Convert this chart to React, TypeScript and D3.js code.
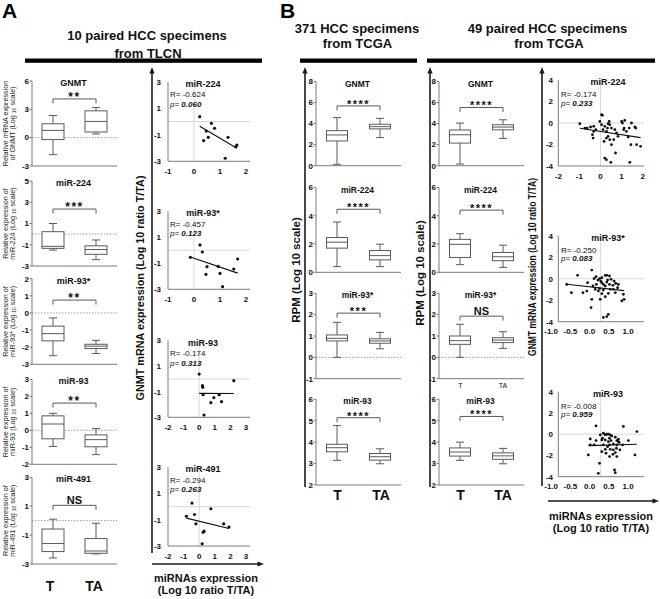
import React from "react";
import * as d3 from "d3";

const FONT = "'Liberation Sans', Arial, Helvetica, sans-serif";
const GROUPS = ["T", "TA"];

// ---------- Panel A: box plots, 10 paired HCC specimens from TLCN ----------
const aNames = ["GNMT", "miR-224", "miR-93*", "miR-93", "miR-491"];
const aLabelTop = ["Relative mRNA expression", "Relative expression of", "Relative expression of", "Relative expression of", "Relative expression of"];
const aLabelBottom = ["of GNMT", "miR-224", "miR-93*", "miR-93", "miR-491"];
const aTicks = [[-3, 0, 3, 6], [-3, -1, 1, 3, 5], [-3, -2, -1, 0, 1, 2], [-2, -1, 0, 1, 2, 3], [-3, -1, 1, 3]];
// [min, q1, median, q3, max]
const aStatsT = [
  [-1.8, -0.2, 0.77, 1.47, 2.35],
  [-1.5, -1.34, -1.15, 0.23, 1.0],
  [-2.5, -1.63, -1.21, -0.77, -0.29],
  [-0.95, -0.5, 0.37, 0.85, 1.0],
  [-2.58, -2.14, -1.58, -0.58, 0.1],
];
const aStatsTA = [
  [0.39, 0.6, 1.72, 2.84, 3.19],
  [-2.4, -1.9, -1.45, -1.1, -0.55],
  [-2.37, -2.08, -1.94, -1.83, -1.6],
  [-1.43, -0.97, -0.55, -0.27, 0.1],
  [-2.3, -2.26, -2.1, -1.24, -0.18],
];
const aSig = ["**", "***", "**", "**", "NS"];
const aBracket = [4.1, 2.36, 0.75, 1.6, 1.06];

// ---------- Panel A: scatter plots ----------
const aScNames = ["miR-224", "miR-93*", "miR-93", "miR-491"];
const aScR = ["-0.624", "-0.457", "-0.174", "-0.294"];
const aScP = ["0.060", "0.123", "0.313", "0.263"];
const aScXTicks = [[-1, 0, 1, 2], [-1, 0, 1, 2], [-2, -1, 0, 1, 2, 3], [-2, -1, 0, 1, 2, 3]];
const aScYTicks = [-3, -1, 1, 3];
const aScX = [
  [0.22, 0.67, 0.79, 0.47, 0.55, 0.37, 1.31, 1.65, 1.61, 1.2],
  [0.23, 0.32, -0.14, 0.5, 0.46, 0.93, 1.0, 1.1, 1.53, 1.68],
  [0, 0.21, 0.23, 0.25, 2.22, 1.28, 0.94, 0.75, 1.43, 0.31],
  [-0.46, 0.75, -0.82, -0.3, -0.21, 0.31, 0.25, 0.19, 1.57, 1.91],
];
const aScY = [
  [0.36, -0.14, -0.51, -0.72, -1.19, -1.44, -1.19, -1.77, -1.9, -2.77],
  [0.41, -0.13, -0.54, -1.26, -1.85, -1.24, -1.78, -2.8, -1.44, -0.67],
  [0.38, -0.53, -0.66, -1.23, -0.14, -1.23, -1.47, -1.86, -1.78, -2.82],
  [0.27, -0.16, -0.73, -0.6, -1.31, -1.87, -1.95, -2.83, -1.31, -1.56],
];

// ---------- Panel B: box plots (TCGA) ----------
const bNames = ["GNMT", "miR-224", "miR-93*", "miR-93"];
const bTicks = [[0, 2, 4, 6, 8], [0, 2, 4, 6], [-1, 0, 1, 2, 3], [2, 3, 4, 5, 6]];
const b1StatsT = [
  [0.13, 2.35, 2.92, 3.33, 4.57],
  [0.4, 1.71, 2.13, 2.46, 3.56],
  [0.0, 0.77, 0.89, 1.05, 1.64],
  [3.15, 3.55, 3.74, 3.9, 4.77],
];
const b1StatsTA = [
  [2.67, 3.5, 3.71, 3.94, 4.5],
  [0.4, 0.88, 1.18, 1.54, 1.99],
  [0.4, 0.66, 0.77, 0.87, 1.17],
  [2.99, 3.16, 3.32, 3.47, 3.69],
];
const b1Sig = ["****", "****", "***", "****"];
const b1Bracket = [5.68, 4.46, 2.07, 5.14];
const b2StatsT = [
  [0.16, 2.15, 2.94, 3.39, 4.05],
  [0.54, 1.05, 1.98, 2.33, 2.73],
  [0.0, 0.61, 0.78, 1.0, 1.55],
  [3.15, 3.35, 3.54, 3.73, 4.0],
];
const b2StatsTA = [
  [2.59, 3.41, 3.67, 3.89, 4.36],
  [0.35, 0.82, 1.1, 1.4, 1.92],
  [0.42, 0.69, 0.81, 0.92, 1.2],
  [2.99, 3.2, 3.36, 3.5, 3.71],
];
const b2Sig = ["****", "****", "NS", "****"];
const b2Bracket = [5.53, 4.4, 1.93, 5.2];

// ---------- Panel B: scatter plots (49 paired) ----------
const bScNames = ["miR-224", "miR-93*", "miR-93"];
const bScR = ["-0.174", "-0.250", "-0.008"];
const bScP = ["0.233", "0.083", "0.959"];
const bScYTicks = [-4, -2, 0, 2, 4];
const bScXTicks = [[-2, -1, 0, 1, 2], [-1, -0.5, 0, 0.5, 1], [-1, -0.5, 0, 0.5, 1]];
const bScXTickLabels = [["-2", "-1", "0", "1", "2"], ["-1.0", "-0.5", "0.0", "0.5", "1.0"], ["-1.0", "-0.5", "0.0", "0.5", "1.0"]];
const bScX = [
  [-0.98, -0.74, -0.63, -0.47, -0.32, -0.22, -0.32, -0.38, -0.35, 0.05, 0.09, -0.03, 0.05, 0.2, 0.12, 0.33, 0.28, 0.41, 0.36, 0.44, 0.52, 0.36, 0.17, 0.28, 0.44, 0.68, 0.76, 0.83, 0.63, 0.52, 0.71, 0.28, 0.2, 0.49, 1.0, 1.04, 1.15, 1.1, 1.23, 1.12, 1.36, 1.31, 1.47, 1.63, 1.67, 1.44, 1.71, 1.9, 1.39],
  [-0.6, -0.88, -0.76, -0.46, -0.34, -0.23, -0.17, -0.12, -0.07, -0.03, 0.0, -0.11, 0.03, 0.07, 0.12, 0.16, 0.12, 0.18, 0.23, 0.27, 0.32, 0.35, 0.39, 0.44, 0.46, 0.25, 0.07, 0.03, -0.06, -0.23, -0.01, 0.12, 0.2, 0.38, 0.59, 0.55, 0.61, -0.25, 0.07, 0.16, 0.2, -0.14, -0.2, 0.16, -0.03, 0.03, 0.23, 0.33, -0.36],
  [-0.12, 0.59, 0.94, -0.27, -0.12, -0.17, -0.32, -0.01, 0.07, 0.12, 0.16, 0.2, 0.25, 0.29, 0.05, 0.12, 0.23, 0.38, 0.42, 0.46, 0.46, 0.23, 0.33, 0.42, 0.03, 0.14, 0.25, 0.33, 0.41, 0.32, 0.42, 0.23, 0.72, 0.89, -0.03, -0.06, 0.36, 0.38, 0.57, 0.03, -0.27, 0.18, 0.5, 0.27, 0.07, 0.2, 0.48, 0.12, 0.38],
];
const bScY = [
  [-0.07, -0.47, -0.47, -0.37, -0.31, -0.62, -0.78, -1.09, -1.4, 0.77, 0.71, 0.15, -0.16, -0.31, -0.62, -0.47, -0.78, 0.15, -0.07, -0.16, -0.47, -1.24, -1.71, -1.4, -1.55, -0.62, -0.93, -1.24, -1.55, -2.02, -2.79, -3.41, -3.26, -3.66, 0.15, 0.0, 0.24, -0.62, -0.78, -0.47, -0.47, -1.3, 0.0, -0.37, -0.47, -2.02, -2.02, -2.17, -3.66],
  [0.31, -0.53, -1.3, -1.3, -0.37, 0.8, 0.0, 0.19, -0.13, 0.0, -0.22, -0.53, -0.37, -0.53, -0.68, -0.31, 0.31, -0.13, -0.53, -0.06, -0.62, -0.22, -0.44, -0.84, -0.53, -0.99, -1.05, -1.39, -1.15, -1.92, -1.92, -1.67, -1.36, -1.3, -1.45, -2.07, -1.92, -2.69, -3.61, -3.52, -3.31, -0.99, -0.68, 0.31, -0.93, 0.09, 0.25, -0.99, -1.15],
  [0.78, 0.73, 0.25, -0.44, -0.6, -1.01, -1.95, -0.07, 0.09, -0.07, 0.0, 0.0, -0.07, -0.16, -0.38, -0.54, -0.38, -0.28, -0.6, -0.47, -0.69, -1.01, -0.92, -1.01, -1.64, -1.79, -1.42, -1.47, -1.32, -1.89, -2.11, -2.11, -0.6, -1.95, -2.74, -3.68, -3.37, -3.62, -1.01, -0.54, -1.01, -1.17, -1.47, -0.6, -1.01, -0.69, -0.78, -1.42, -1.73],
];

// ---------- helpers ----------
const AX = "#7a7a7a";
const BOX = "#5a5a5a";

function fit(xs: number[], ys: number[]) {
  const mx = d3.mean(xs) as number;
  const my = d3.mean(ys) as number;
  let sxy = 0, sxx = 0;
  xs.forEach((x, i) => { sxy += (x - mx) * (ys[i] - my); sxx += (x - mx) * (x - mx); });
  const b = sxy / sxx;
  return { a: my - b * mx, b, x0: d3.min(xs) as number, x1: d3.max(xs) as number };
}

function Rot({ x, y, children, ...rest }: any) {
  return (
    <text transform={`translate(${x},${y}) rotate(-90)`} textAnchor="middle" {...rest}>
      {children}
    </text>
  );
}

function VArrow({ x, y1, y2 }: any) {
  return (
    <g>
      <line x1={x} x2={x} y1={y1} y2={y2 + 5} stroke="#1a1a1a" strokeWidth={1.6} />
      <path d={`M${x},${y2} L${x - 2.6},${y2 + 6.5} L${x + 2.6},${y2 + 6.5} Z`} fill="#1a1a1a" />
    </g>
  );
}

function HArrow({ y, x1, x2 }: any) {
  return (
    <g>
      <line x1={x1} x2={x2 - 5} y1={y} y2={y} stroke="#1a1a1a" strokeWidth={1.6} />
      <path d={`M${x2},${y} L${x2 - 6.5},${y - 2.6} L${x2 - 6.5},${y + 2.6} Z`} fill="#1a1a1a" />
    </g>
  );
}

function Box({ x, y, s, bw }: any) {
  const [lo, q1, md, q3, hi] = s;
  const cap = 4;
  return (
    <g stroke={BOX} strokeWidth={1} fill="none">
      <line x1={x} x2={x} y1={y(hi)} y2={y(q3)} />
      <line x1={x} x2={x} y1={y(q1)} y2={y(lo)} />
      <line x1={x - cap} x2={x + cap} y1={y(hi)} y2={y(hi)} />
      <line x1={x - cap} x2={x + cap} y1={y(lo)} y2={y(lo)} />
      <rect x={x - bw / 2} y={y(q3)} width={bw} height={Math.max(0.5, y(q1) - y(q3))} fill="#fff" />
      <line x1={x - bw / 2} x2={x + bw / 2} y1={y(md)} y2={y(md)} />
    </g>
  );
}

function BoxPlot({ axisX, top, bottom, ticks, sT, sTA, bracket, sig, name, zero, titleSize, sigSize, bw }: any) {
  const y = d3.scaleLinear().domain(d3.extent(ticks) as [number, number]).range([bottom, top]);
  const x = d3.scalePoint().domain(GROUPS).range([axisX + 21, axisX + 64]);
  const xEnd = axisX + 85;
  const xT = x("T") as number, xTA = x("TA") as number;
  const yb = y(bracket);
  const isNS = sig === "NS";
  return (
    <g>
      {zero && <line x1={axisX} x2={xEnd} y1={y(0)} y2={y(0)} stroke="#888" strokeWidth={0.8} strokeDasharray="1.5,1.5" />}
      <line x1={axisX} x2={axisX} y1={top} y2={bottom} stroke={AX} strokeWidth={1} />
      <line x1={axisX} x2={xEnd} y1={bottom} y2={bottom} stroke={AX} strokeWidth={1} />
      {ticks.map((t: number) => (
        <g key={t}>
          <line x1={axisX - 2.5} x2={axisX} y1={y(t)} y2={y(t)} stroke={AX} />
          <text x={axisX - 3} y={y(t)} dy="0.35em" textAnchor="end" fontSize={8} fontWeight="bold" fill="#111">{t}</text>
        </g>
      ))}
      <text x={(xT + xTA) / 2 - 1} y={top + 5} textAnchor="middle" fontSize={titleSize} fontWeight="bold" fill="#111">{name}</text>
      <path d={`M${xT},${yb + 4.5} V${yb} H${xTA} V${yb + 4.5}`} stroke={BOX} fill="none" strokeWidth={1} />
      <text x={(xT + xTA) / 2} y={isNS ? yb - 1.5 : yb + 2} textAnchor="middle" fontSize={isNS ? 11 : sigSize} fontWeight="bold" letterSpacing={isNS ? 0 : 1.5} fill="#111">{sig}</text>
      <Box x={xT} y={y} s={sT} bw={bw} />
      <Box x={xTA} y={y} s={sTA} bw={bw} />
    </g>
  );
}

function Scatter({ axisX, axisEnd, xRange, xDomain, top, bottom, yDomain, xTicks, xLabels, yTicks, xs, ys, name, r, p, labelDx, dotR, yLabelX, titleX, textX, rDy, pDy }: any) {
  const x = d3.scaleLinear().domain(xDomain).range(xRange);
  const y = d3.scaleLinear().domain(yDomain).range([bottom, top]);
  const f = fit(xs, ys);
  return (
    <g>
      <line x1={axisX} x2={axisEnd} y1={y(0)} y2={y(0)} stroke="#cfcfcf" strokeWidth={0.8} />
      <line x1={x(0)} x2={x(0)} y1={top} y2={bottom} stroke="#cfcfcf" strokeWidth={0.8} />
      <line x1={axisX} x2={axisX} y1={top} y2={bottom} stroke={AX} strokeWidth={1} />
      <line x1={axisX} x2={axisEnd} y1={bottom} y2={bottom} stroke={AX} strokeWidth={1} />
      {yTicks.map((t: number) => (
        <text key={t} x={yLabelX} y={y(t)} dy="0.35em" textAnchor="end" fontSize={8} fontWeight="bold" fill="#111">{t}</text>
      ))}
      {xTicks.map((t: number, i: number) => (
        <text key={t} x={x(t) + labelDx} y={bottom + 12.5} textAnchor="middle" fontSize={8} fontWeight="bold" fill="#111">{xLabels[i]}</text>
      ))}
      <text x={titleX} y={top + 5} textAnchor="middle" fontSize={9} fontWeight="bold" fill="#111">{name}</text>
      <text x={textX} y={top + rDy} fontSize={8} fill="#111">{`R= ${r}`}</text>
      <text x={textX} y={top + pDy} fontSize={8} fill="#111">
        <tspan fontStyle="italic">p=</tspan>
        <tspan fontStyle="italic" fontWeight="bold">{`  ${p}`}</tspan>
      </text>
      <line x1={x(f.x0)} x2={x(f.x1)} y1={y(f.a + f.b * f.x0)} y2={y(f.a + f.b * f.x1)} stroke="#111" strokeWidth={1.1} />
      {xs.map((v: number, i: number) => (
        <circle key={i} cx={x(v)} cy={y(ys[i])} r={dotR} fill="#111" />
      ))}
    </g>
  );
}

const aRows = [[81, 166], [181, 266], [278.7, 364.3], [379.3, 464.3], [477.3, 564]];
const bRows = [[81.5, 165.7], [187.5, 272.3], [293.3, 378.7], [399.3, 485]];
const aScRows = [[81.7, 161.3], [211.3, 289.3], [340.5, 417.3], [467.3, 546]];
const bScRows = [[80, 166], [235.7, 321.7], [391.7, 476.7]];

export default function App() {
  return (
    <svg width={660} height={599} style={{ position: "absolute", left: 0, top: 0, display: "block" }} fontFamily={FONT}>
      <rect width={660} height={599} fill="#fff" />

      {/* Panel labels */}
      <text x={2} y={18} fontSize={21} fontWeight="bold" fill="#000">A</text>
      <text x={280} y={18} fontSize={21} fontWeight="bold" fill="#000">B</text>

      {/* Section headers */}
      <text x={147} y={40} textAnchor="middle" fontSize={13} fontWeight="bold" fill="#111">10 paired HCC specimens</text>
      <text x={148} y={57.5} textAnchor="middle" fontSize={13} fontWeight="bold" fill="#111">from TLCN</text>
      <rect x={25} y={58.5} width={237} height={4.3} fill="#000" />

      <text x={357} y={33} textAnchor="middle" fontSize={13} fontWeight="bold" fill="#111">371 HCC specimens</text>
      <text x={357.5} y={48} textAnchor="middle" fontSize={13} fontWeight="bold" fill="#111">from TCGA</text>
      <rect x={300} y={58.5} width={117} height={4.3} fill="#000" />

      <text x={547.5} y={33} textAnchor="middle" fontSize={13} fontWeight="bold" fill="#111">49 paired HCC specimens</text>
      <text x={549} y={48} textAnchor="middle" fontSize={13} fontWeight="bold" fill="#111">from TCGA</text>
      <rect x={427} y={58.5} width={228} height={4.3} fill="#000" />

      {/* Panel A box plots */}
      {aNames.map((n, i) => (
        <g key={n}>
          <BoxPlot axisX={32} top={aRows[i][0]} bottom={aRows[i][1]} ticks={aTicks[i]} sT={aStatsT[i]} sTA={aStatsTA[i]}
            bracket={aBracket[i]} sig={aSig[i]} name={n} zero={true} titleSize={9} sigSize={12} bw={22} />
          <Rot x={7.8} y={(aRows[i][0] + aRows[i][1]) / 2} fontSize={7.2} fill="#222">{aLabelTop[i]}</Rot>
          <Rot x={14.8} y={(aRows[i][0] + aRows[i][1]) / 2} fontSize={7.2} fill="#222">
            <tspan>{`${aLabelBottom[i]} (Log `}</tspan>
            <tspan fontSize={5} dy={1.5}>10</tspan>
            <tspan dy={-1.5}> scale)</tspan>
          </Rot>
        </g>
      ))}
      <text x={50} y={591} textAnchor="middle" fontSize={14} fontWeight="bold" fill="#111">T</text>
      <text x={94} y={591} textAnchor="middle" fontSize={14} fontWeight="bold" fill="#111">TA</text>

      {/* Panel A scatter */}
      <VArrow x={152} y1={553} y2={67} />
      <HArrow y={564} x1={152} x2={264} />
      <Rot x={144} y={288} fontSize={11} fontWeight="bold" fill="#111" textLength={225} lengthAdjust="spacingAndGlyphs">GNMT mRNA expression (Log 10 ratio T/TA)</Rot>
      <text x={206} y={582} textAnchor="middle" fontSize={11} fontWeight="bold" fill="#111">miRNAs expression</text>
      <text x={206} y={594} textAnchor="middle" fontSize={11} fontWeight="bold" fill="#111">(Log 10 ratio T/TA)</text>
      {aScNames.map((n, i) => (
        <Scatter key={n} axisX={168} axisEnd={250} xRange={[168, 246]} xDomain={d3.extent(aScXTicks[i])}
          top={aScRows[i][0]} bottom={aScRows[i][1]} yDomain={[-3, 3]} xTicks={aScXTicks[i]} xLabels={aScXTicks[i].map(String)}
          yTicks={aScYTicks} xs={aScX[i]} ys={aScY[i]} name={n} r={aScR[i]} p={aScP[i]} labelDx={0} dotR={1.6}
          yLabelX={161} titleX={203} textX={170} rDy={15.5} pDy={25} />
      ))}

      {/* Panel B box plots */}
      <VArrow x={305} y1={487} y2={67} />
      <VArrow x={430} y1={487} y2={67} />
      <Rot x={300} y={270} fontSize={11.5} fontWeight="bold" fill="#111">RPM (Log 10 scale)</Rot>
      <Rot x={424} y={273} fontSize={11.5} fontWeight="bold" fill="#111">RPM (Log 10 scale)</Rot>
      {bNames.map((n, i) => (
        <g key={n}>
          <BoxPlot axisX={316} top={bRows[i][0]} bottom={bRows[i][1]} ticks={bTicks[i]} sT={b1StatsT[i]} sTA={b1StatsTA[i]}
            bracket={b1Bracket[i]} sig={b1Sig[i]} name={n} zero={n === "miR-93*"} titleSize={8.5} sigSize={11} bw={21} />
          <BoxPlot axisX={439} top={bRows[i][0]} bottom={bRows[i][1]} ticks={bTicks[i]} sT={b2StatsT[i]} sTA={b2StatsTA[i]}
            bracket={b2Bracket[i]} sig={b2Sig[i]} name={n} zero={n === "miR-93*"} titleSize={8.5} sigSize={11} bw={21} />
        </g>
      ))}
      <text x={460.5} y={388} textAnchor="middle" fontSize={7} fill="#111">T</text>
      <text x={503} y={388} textAnchor="middle" fontSize={7} fill="#111">TA</text>
      <text x={337.5} y={500} textAnchor="middle" fontSize={14} fontWeight="bold" fill="#111">T</text>
      <text x={381} y={500} textAnchor="middle" fontSize={14} fontWeight="bold" fill="#111">TA</text>
      <text x={460.5} y={500} textAnchor="middle" fontSize={14} fontWeight="bold" fill="#111">T</text>
      <text x={503} y={500} textAnchor="middle" fontSize={14} fontWeight="bold" fill="#111">TA</text>

      {/* Panel B scatter */}
      <VArrow x={542} y1={486} y2={67} />
      <HArrow y={501} x1={548} x2={659} />
      <Rot x={536} y={267} fontSize={11} fontWeight="bold" fill="#111" textLength={178} lengthAdjust="spacingAndGlyphs">GNMT mRNA expression (Log 10 ratio T/TA)</Rot>
      <text x={601} y={519.5} textAnchor="middle" fontSize={11} fontWeight="bold" fill="#111">miRNAs expression</text>
      <text x={601} y={532} textAnchor="middle" fontSize={11} fontWeight="bold" fill="#111">(Log 10 ratio T/TA)</text>
      {bScNames.map((n, i) => (
        <Scatter key={n} axisX={558.3} axisEnd={644} xRange={i === 0 ? [558.3, 642.7] : [558.3, 643]}
          xDomain={i === 0 ? [-2, 2] : [-1.1, 1.1]}
          top={bScRows[i][0]} bottom={bScRows[i][1]} yDomain={[-4, 4]} xTicks={bScXTicks[i]} xLabels={bScXTickLabels[i]}
          yTicks={bScYTicks} xs={bScX[i]} ys={bScY[i]} name={n} r={bScR[i]} p={bScP[i]} labelDx={i === 0 ? 0 : -11} dotR={1.4}
          yLabelX={553} titleX={608} textX={561} rDy={17} pDy={25.5} />
      ))}
    </svg>
  );
}
